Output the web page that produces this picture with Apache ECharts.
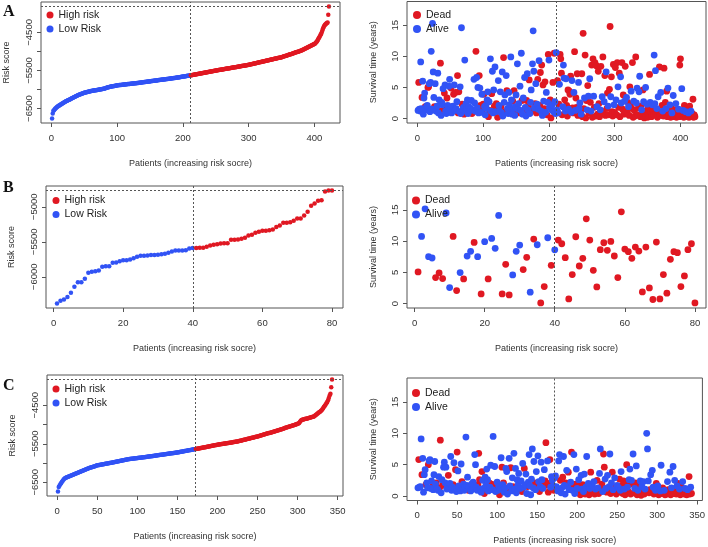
<!DOCTYPE html>
<html>
<head>
<meta charset="utf-8">
<title>Risk score and survival</title>
<script src="https://cdn.jsdelivr.net/npm/echarts@6/dist/echarts.min.js"></script>
<style>
  html, body { margin: 0; padding: 0; background: #fff; }
  #chart { width: 708px; height: 547px; }
</style>
</head>
<body>
<div id="chart"></div>
<script>
// ---- data ----
// sorted risk scores, panel A (n = 422)
const riskA = [
  -6761,-6630,-6560,-6545,-6520,-6500,-6482,-6465,-6452,-6440,
  -6428,-6417,-6406,-6395,-6384,-6373,-6362,-6351,-6339,-6327,
  -6318,-6309,-6300,-6292,-6284,-6276,-6268,-6259,-6250,-6240,
  -6231,-6222,-6213,-6204,-6196,-6188,-6179,-6170,-6162,-6153,
  -6146,-6139,-6132,-6125,-6118,-6111,-6104,-6097,-6090,-6083,
  -6079,-6075,-6071,-6067,-6063,-6059,-6055,-6050,-6045,-6040,
  -6037,-6034,-6031,-6028,-6025,-6022,-6019,-6016,-6013,-6010,
  -6007,-6004,-6001,-5998,-5995,-5992,-5988,-5985,-5982,-5978,
  -5972,-5966,-5960,-5954,-5948,-5942,-5937,-5932,-5928,-5924,
  -5920,-5917,-5914,-5911,-5908,-5905,-5902,-5899,-5895,-5890,
  -5888,-5886,-5884,-5882,-5880,-5878,-5876,-5874,-5872,-5870,
  -5868,-5866,-5864,-5862,-5860,-5858,-5856,-5854,-5852,-5850,
  -5848,-5846,-5844,-5842,-5840,-5838,-5836,-5834,-5832,-5830,
  -5828,-5826,-5823,-5821,-5819,-5816,-5814,-5812,-5809,-5807,
  -5805,-5802,-5800,-5798,-5795,-5793,-5791,-5788,-5786,-5784,
  -5781,-5779,-5777,-5774,-5772,-5770,-5767,-5765,-5763,-5760,
  -5758,-5756,-5753,-5751,-5749,-5746,-5744,-5742,-5739,-5737,
  -5735,-5732,-5730,-5728,-5725,-5723,-5721,-5718,-5716,-5714,
  -5711,-5709,-5707,-5704,-5702,-5700,-5697,-5695,-5693,-5690,
  -5687,-5684,-5681,-5678,-5676,-5673,-5670,-5667,-5664,-5661,
  -5658,-5655,-5653,-5650,-5647,-5644,-5641,-5638,-5636,-5633,
  -5630,-5627,-5624,-5620,-5617,-5614,-5610,-5607,-5604,-5601,
  -5597,-5594,-5591,-5587,-5584,-5581,-5578,-5574,-5571,-5568,
  -5564,-5561,-5558,-5555,-5551,-5548,-5545,-5541,-5538,-5535,
  -5532,-5528,-5525,-5522,-5518,-5515,-5512,-5509,-5505,-5502,
  -5499,-5496,-5493,-5490,-5487,-5484,-5481,-5478,-5475,-5472,
  -5469,-5466,-5463,-5460,-5457,-5454,-5451,-5448,-5445,-5442,
  -5439,-5436,-5433,-5430,-5427,-5424,-5421,-5418,-5415,-5412,
  -5409,-5406,-5403,-5400,-5397,-5394,-5391,-5388,-5385,-5382,
  -5379,-5376,-5373,-5370,-5367,-5364,-5361,-5358,-5355,-5351,
  -5347,-5343,-5339,-5335,-5331,-5327,-5323,-5319,-5315,-5311,
  -5307,-5303,-5299,-5295,-5291,-5287,-5283,-5279,-5275,-5271,
  -5267,-5263,-5259,-5255,-5251,-5247,-5243,-5239,-5235,-5231,
  -5227,-5223,-5219,-5215,-5211,-5207,-5203,-5199,-5195,-5191,
  -5187,-5183,-5179,-5175,-5171,-5167,-5163,-5159,-5156,-5153,
  -5147,-5141,-5135,-5129,-5123,-5117,-5112,-5106,-5100,-5094,
  -5088,-5082,-5077,-5071,-5065,-5059,-5053,-5047,-5042,-5036,
  -5030,-5024,-5018,-5012,-5007,-5001,-4995,-4989,-4984,-4978,
  -4970,-4961,-4952,-4943,-4934,-4925,-4917,-4908,-4899,-4890,
  -4881,-4872,-4863,-4855,-4846,-4837,-4828,-4820,-4811,-4803,
  -4790,-4775,-4755,-4730,-4700,-4670,-4640,-4610,-4575,-4542,
  -4500,-4450,-4400,-4360,-4325,-4300,-4285,-4270,-4255,-4239,
  -4037,-3820
];
// survival time (years) and status (1 = dead), panel A
const timeA = [
  1.3,5.8,1.5,1.2,9.1,1.6,3.4,6.0,0.7,3.3,4.1,1.9,1.4,2.0,2.1,5.0,5.1,5.6,1.1,5.8,
  10.8,1.5,15.3,7.5,3.4,1.9,5.6,1.2,1.5,2.0,7.3,0.9,3.0,1.2,8.9,0.5,2.6,2.2,4.8,1.7,
  4.1,5.4,1.2,0.8,3.3,2.1,1.0,5.2,6.3,1.5,4.9,0.9,1.9,2.0,3.9,5.4,1.3,4.2,1.6,2.7,
  6.9,0.9,4.3,1.1,5.1,0.8,14.6,2.3,1.4,1.8,0.7,9.4,1.2,2.4,1.5,3.0,0.8,1.9,1.0,1.3,
  1.6,2.9,0.8,1.4,1.1,6.3,2.5,1.2,10.8,6.6,1.7,5.0,0.9,6.9,4.9,2.1,1.0,3.9,1.4,2.3,
  3.9,1.9,0.6,2.1,1.6,3.0,4.3,0.3,2.7,1.3,9.6,1.2,4.0,7.6,0.9,4.6,2.0,8.3,1.1,2.4,
  1.5,0.2,6.1,2.1,1.2,4.3,1.9,0.9,7.5,0.4,9.8,2.6,3.8,1.1,6.9,4.5,1.6,0.8,4.2,2.2,
  1.3,9.9,3.0,0.7,2.8,1.6,4.5,0.5,1.9,3.8,1.2,8.8,1.5,2.4,0.9,5.2,1.3,10.5,2.9,0.7,
  3.3,1.1,6.6,1.8,0.4,2.9,7.2,1.4,1.9,6.2,0.8,2.6,4.6,1.2,8.8,14.1,7.6,1.7,2.4,5.6,
  0.9,2.3,6.3,1.5,9.3,2.1,7.4,1.2,8.6,0.5,5.4,2.8,1.6,5.9,1.0,4.2,0.6,2.6,10.3,9.4,
  1.8,3.0,0.1,1.4,2.2,5.8,1.1,10.5,2.7,0.8,10.6,
  1.4,6.1,0.9,2.3,5.5,10.3,9.6,7.3,0.6,1.9,8.6,6.5,3.0,1.2,6.4,2.1,0.4,4.6,1.5,
  4.4,3.9,6.8,1.0,6.1,1.7,0.9,4.2,10.75,1.3,3.3,1.8,7.2,0.5,5.8,1.6,2.5,1.1,0.7,7.2,
  0.3,13.7,1.6,3.3,10.2,0.1,2.9,1.4,5.3,3.6,0.9,6.4,2.6,1.2,8.6,0.2,9.6,3.6,1.8,9.0,
  0.4,8.5,1.9,0.7,7.6,2.4,0.3,1.4,8.4,1.2,3.5,9.9,0.8,2.7,6.9,0.5,7.5,1.6,4.1,2.0,
  0.6,4.7,14.8,3.5,6.7,1.1,0.4,8.7,2.2,1.0,8.2,3.0,0.6,9.0,5.1,1.8,7.3,0.3,6.7,2.5,
  9.0,1.5,3.8,0.7,2.8,8.4,1.2,3.4,0.9,2.6,1.9,0.5,5.1,2.2,4.4,1.6,9.0,0.2,2.8,1.3,
  0.4,9.9,2.5,4.9,0.6,1.7,4.3,6.8,0.3,2.0,1.4,0.8,4.6,2.7,0.1,1.2,5.0,0.5,2.3,0.2,
  1.8,0.4,7.1,2.6,1.0,0.3,2.2,1.5,0.6,10.2,2.4,7.7,0.9,1.6,0.2,3.5,1.1,8.3,0.5,4.2,
  0.8,2.1,1.2,0.4,8.1,0.9,2.6,1.6,4.4,0.3,4.9,1.1,0.6,2.2,0.2,1.7,0.9,0.5,3.7,0.3,
  1.4,0.6,2.4,0.2,1.0,0.5,1.5,0.3,8.6,9.6,0.8,4.8,0.4,1.3,0.2,2.1,0.6,1.1,0.3,1.6,
  0.5,0.9,0.2,2.0,0.4,1.2,0.3,0.8,3.1,0.2,0.6,0.3
];
const statusA = [
  0,1,0,0,0,0,1,0,0,0,0,1,0,0,0,1,1,0,0,0,
  0,0,0,0,0,1,0,0,1,0,0,0,0,1,1,0,0,0,0,1,
  1,0,0,0,1,0,0,0,0,0,1,0,1,0,1,0,0,1,0,0,
  1,1,1,0,0,0,0,1,0,0,1,0,0,0,0,0,0,0,1,0,
  0,0,1,0,1,0,0,0,1,0,0,0,0,1,0,1,0,0,1,1,
  1,0,0,0,0,0,0,1,0,1,0,0,1,0,0,0,1,0,0,1,
  1,1,0,0,0,0,1,0,0,0,1,0,0,1,0,1,0,0,0,0,
  0,0,0,0,1,0,1,0,0,0,1,0,0,0,1,0,0,0,1,0,
  0,1,0,0,0,1,0,0,1,1,0,0,0,1,0,0,0,0,1,0,
  1,0,1,0,0,1,1,0,1,0,1,0,1,1,0,0,1,0,1,0,
  0,1,1,0,0,1,0,1,0,0,0,
  0,1,0,1,0,1,1,1,1,0,0,0,1,0,0,1,1,1,0,
  1,1,1,0,0,1,1,0,1,0,1,1,1,1,0,0,0,1,0,1,
  1,1,1,0,1,1,1,0,1,0,1,0,1,0,1,1,1,0,1,1,
  1,1,0,1,1,1,1,0,1,1,0,1,1,0,1,1,0,1,1,0,
  1,1,1,0,1,1,1,1,0,1,1,0,1,1,0,1,1,1,0,0,
  1,1,1,1,0,1,1,0,1,1,0,1,1,1,0,1,1,1,0,1,
  1,1,0,0,1,1,0,0,1,1,0,1,1,0,1,1,0,1,0,1,
  1,1,1,0,1,1,0,1,1,0,0,0,1,0,1,0,1,1,1,0,
  1,1,0,1,1,1,1,0,1,1,0,1,1,0,1,1,0,1,0,1,
  1,1,0,1,1,1,0,1,1,1,1,0,1,0,1,1,1,0,1,1,
  1,0,1,1,1,0,1,1,1,1,1,1
];

// panel B (n = 80)
const riskB = [
  -6381,-6343,-6324,-6290,-6229,-6143,-6076,-6076,-6029,-5943,
  -5929,-5919,-5910,-5857,-5848,-5848,-5800,-5795,-5776,-5762,
  -5762,-5752,-5733,-5714,-5700,-5700,-5695,-5690,-5690,-5686,
  -5676,-5671,-5657,-5638,-5624,-5624,-5624,-5619,-5595,-5590,
  -5590,-5586,-5586,-5571,-5552,-5543,-5533,-5524,-5519,-5519,
  -5471,-5471,-5467,-5457,-5443,-5410,-5400,-5371,-5357,-5343,
  -5343,-5333,-5324,-5290,-5267,-5229,-5229,-5219,-5200,-5167,
  -5167,-5124,-5071,-4986,-4952,-4914,-4905,-4781,-4767,-4767
];
const timeB = [
  5.05,10.74,15.16,7.5,7.29,4.15,4.9,3.99,14.5,2.55,
  10.74,2.07,4.95,3.94,7.6,8.35,9.79,7.5,1.54,9.9,
  3.94,10.43,8.83,14.1,1.54,6.28,1.38,4.57,8.35,9.36,
  5.43,7.39,1.81,10.32,9.41,0.1,2.71,10.53,6.12,8.6,
  10.16,9.57,7.34,0.74,4.63,10.69,6.01,7.23,13.56,10.16,
  5.32,2.66,8.62,9.73,8.51,9.95,7.61,4.15,14.68,8.72,
  8.3,7.23,9.04,8.4,1.86,9.04,2.5,0.64,9.84,0.74,
  4.63,1.65,7.07,8.3,8.14,2.71,4.41,8.62,9.57,0.1
];
const statusB = [
  1,0,0,0,0,1,1,1,0,0,
  1,1,0,1,0,0,1,0,1,0,
  1,0,0,0,1,1,1,0,0,0,
  1,1,0,1,0,1,1,0,1,0,
  1,1,1,1,1,1,1,1,1,1,
  1,1,1,1,1,1,1,1,1,1,
  1,1,1,1,1,1,1,1,1,1,
  1,1,1,1,1,1,1,1,1,1
];

// panel C (n = 343)
const riskC = [
  -6740,-6620,-6586,-6550,-6517,-6488,-6460,-6431,-6410,-6388,
  -6380,-6371,-6362,-6354,-6345,-6337,-6328,-6319,-6311,-6302,
  -6293,-6285,-6276,-6267,-6259,-6250,-6241,-6232,-6224,-6215,
  -6206,-6198,-6189,-6181,-6172,-6164,-6155,-6147,-6138,-6130,
  -6123,-6116,-6109,-6102,-6095,-6088,-6081,-6074,-6067,-6060,
  -6056,-6052,-6048,-6044,-6041,-6037,-6033,-6029,-6025,-6021,
  -6018,-6014,-6010,-6006,-6002,-5998,-5994,-5991,-5987,-5983,
  -5979,-5974,-5970,-5966,-5961,-5957,-5953,-5948,-5944,-5940,
  -5936,-5931,-5927,-5923,-5918,-5914,-5910,-5905,-5901,-5897,
  -5894,-5892,-5889,-5887,-5884,-5881,-5879,-5876,-5874,-5871,
  -5868,-5866,-5863,-5861,-5858,-5855,-5853,-5850,-5848,-5845,
  -5842,-5839,-5836,-5833,-5830,-5827,-5824,-5821,-5818,-5815,
  -5812,-5809,-5806,-5803,-5800,-5797,-5794,-5791,-5788,-5785,
  -5782,-5779,-5776,-5773,-5770,-5767,-5764,-5761,-5758,-5755,
  -5752,-5749,-5746,-5743,-5740,-5737,-5734,-5731,-5728,-5725,
  -5721,-5717,-5713,-5709,-5705,-5701,-5698,-5694,-5690,-5686,
  -5682,-5678,-5674,-5670,-5667,-5663,-5659,-5655,-5651,-5647,
  -5644,-5640,-5636,-5632,-5628,-5624,-5620,-5616,-5611,-5607,
  -5603,-5599,-5595,-5591,-5587,-5583,-5578,-5574,-5570,-5566,
  -5562,-5558,-5554,-5550,-5545,-5541,-5537,-5533,-5529,-5525,
  -5522,-5518,-5515,-5511,-5508,-5505,-5501,-5498,-5494,-5491,
  -5488,-5484,-5481,-5477,-5474,-5471,-5467,-5464,-5460,-5457,
  -5454,-5450,-5447,-5443,-5440,-5435,-5430,-5424,-5419,-5414,
  -5409,-5404,-5398,-5393,-5388,-5383,-5378,-5372,-5367,-5362,
  -5357,-5352,-5346,-5341,-5336,-5331,-5326,-5320,-5315,-5310,
  -5304,-5298,-5291,-5285,-5279,-5273,-5267,-5260,-5254,-5248,
  -5242,-5236,-5229,-5223,-5217,-5211,-5205,-5198,-5192,-5186,
  -5180,-5174,-5167,-5161,-5155,-5148,-5141,-5134,-5127,-5120,
  -5114,-5107,-5100,-5093,-5086,-5079,-5072,-5065,-5058,-5051,
  -5045,-5038,-5031,-5024,-5017,-5010,-5003,-4996,-4990,-4983,
  -4975,-4960,-4930,-4900,-4880,-4875,-4870,-4864,-4858,-4853,
  -4847,-4841,-4835,-4830,-4824,-4818,-4812,-4807,-4801,-4795,
  -4780,-4765,-4748,-4730,-4712,-4695,-4680,-4665,-4648,-4630,
  -4600,-4570,-4540,-4510,-4480,-4450,-4415,-4370,-4310,-4245,
  -4200,-4030,-3830
];
const timeC = [
  1.3,5.8,1.4,1.5,9.1,3.4,6.0,0.6,3.4,4.2,1.8,2.1,1.3,5.0,5.6,5.8,1.2,2.4,1.5,1.0,
  3.4,5.5,1.9,2.1,1.1,0.9,3.1,1.3,8.9,0.5,2.6,1.7,4.6,5.4,2.1,4.6,1.1,1.6,3.3,1.2,
  2.0,6.3,0.9,1.4,1.8,5.3,1.1,4.2,0.7,7.0,4.0,1.6,1.3,0.8,5.1,2.3,1.2,1.9,0.9,1.5,
  9.4,1.7,3.0,0.9,1.4,1.2,0.8,1.9,1.1,2.2,1.6,6.6,5.0,1.4,0.9,1.8,6.8,2.6,1.1,0.6,
  3.9,2.5,1.2,0.4,3.0,1.7,4.3,2.6,0.8,2.1,1.4,4.9,1.9,1.0,9.5,1.6,4.7,0.7,1.3,2.2,
  0.9,1.5,0.2,1.1,6.1,4.6,1.8,2.1,0.6,1.3,4.4,3.9,0.3,1.2,6.0,1.6,4.5,0.8,2.9,1.5,
  6.8,1.1,4.4,0.5,2.6,1.7,3.6,0.9,1.2,2.4,0.7,5.2,1.4,4.4,1.8,3.5,0.4,1.5,2.2,6.6,
  1.6,0.2,2.7,7.5,1.3,5.5,2.1,1.0,3.9,1.8,6.4,2.3,0.7,1.5,5.4,2.6,1.2,1.9,4.2,2.4,
  8.5,1.7,5.6,0.6,2.0,5.8,1.4,3.1,2.5,1.6,0.9,2.9,
  3.2,1.5,1.1,0.8,5.6,6.6,2.5,0.5,1.3,3.0,6.3,1.7,0.3,2.1,4.1,1.5,3.8,1.0,
  1.4,2.2,7.0,0.9,1.6,6.6,0.4,1.9,4.3,1.2,0.6,2.6,1.7,0.2,3.3,1.1,1.8,0.7,3.5,0.3,
  1.4,6.3,0.8,2.0,0.2,1.2,3.8,0.5,1.6,0.9,2.3,0.3,1.1,0.6,2.5,1.3,0.4,3.6,7.5,1.0,
  1.9,0.7,6.7,4.6,2.7,1.2,0.6,3.3,0.9,1.5,6.7,0.4,2.1,3.8,1.0,0.8,2.9,1.4,0.3,1.7,
  0.6,1.3,2.7,0.9,3.9,1.7,0.4,2.4,1.1,0.2,2.0,5.0,1.4,0.7,2.6,4.3,0.3,2.5,1.9,6.7,
  0.5,1.2,2.1,4.8,0.2,0.9,1.8,0.4,2.4,0.1,1.5,0.6,2.3,0.3,1.1,0.8,10.0,7.5,2.4,0.5,
  1.0,3.4,0.7,4.1,1.4,0.3,1.2,0.9,2.0,0.5,1.6,0.2,1.1,0.8,4.9,0.4,1.3,0.6,0.9,0.2,
  0.7,0.3,2.3,1.0,0.5,3.8,0.2,1.3,0.6,4.7,0.4,2.5,0.9,0.3,1.6,2.0,0.5,1.1,0.2,1.5,
  0.4,2.3,0.8,0.3,1.2,0.6,0.2,1.0,0.5,3.1,0.3,1.4,0.4
];
const statusC = [
  0,1,0,0,0,1,0,0,0,0,1,0,0,1,0,0,0,0,1,0,
  0,0,0,1,0,0,0,1,1,0,0,1,0,0,0,0,0,0,1,0,
  0,0,0,0,1,0,0,1,0,1,0,0,1,0,0,1,0,0,0,0,
  0,0,0,1,0,1,0,0,0,0,0,0,0,0,0,1,1,1,0,0,
  1,0,0,1,0,0,0,0,0,1,0,0,1,0,0,1,0,0,1,0,
  0,0,1,0,0,1,0,1,0,0,0,0,0,1,0,0,1,0,0,1,
  0,0,0,0,0,0,0,1,0,0,1,0,0,1,0,0,0,1,0,0,
  0,0,0,0,0,0,1,0,0,1,0,0,1,0,0,0,0,1,0,1,
  1,1,0,1,1,1,0,0,0,0,1,0,
  0,0,1,0,0,0,1,0,0,1,0,0,0,1,0,0,1,0,
  1,0,1,0,1,0,0,1,0,0,1,0,1,1,0,0,1,0,0,1,
  0,0,1,0,1,0,1,1,0,1,0,1,0,1,1,0,1,0,0,1,
  1,0,1,1,0,0,1,0,1,0,0,1,0,1,0,1,0,1,1,0,
  1,0,1,0,0,1,1,1,0,1,1,1,0,1,0,0,1,0,1,0,
  1,0,1,0,1,0,1,1,0,1,0,1,0,1,0,1,0,0,0,1,
  1,0,1,0,0,1,1,0,1,1,0,1,1,0,0,1,1,1,0,1,
  1,1,0,1,1,0,1,0,1,0,1,0,1,1,0,1,1,0,1,1,
  1,0,1,1,0,1,1,0,1,1,1,0,1
];

// number of low-risk patients (median split)
const lowA = 211, lowB = 40, lowC = 172;

// axis ticks
const riskTicksAC = [-6500, -6000, -5500, -5000, -4500];
const riskLabelsAC = [-6500, -5500, -4500];
const riskTicksB = [-6000, -5500, -5000];
const survTicks = [0, 5, 10, 15];
const patTicksA = [0, 100, 200, 300, 400];
const patTicksB = [0, 20, 40, 60, 80];
const patTicksC = [0, 50, 100, 150, 200, 250, 300, 350];

// ---- chart ----
const RED = '#E01822';
const BLUE = '#3153F5';
const FONT = '"Liberation Sans", Arial, sans-serif';
const TXT = '#333';
const LINE = '#555';

// R style axis range: data range padded by 4% on each side
function pad(lo, hi) {
  const d = (hi - lo) * 0.04;
  return [lo - d, hi + d];
}

const minus = v => String(v).replace('-', '\u2212');

function xAxisFor(gi, n, ticks) {
  const r = pad(1, n);
  return {
    type: 'value', gridIndex: gi, min: r[0], max: r[1],
    name: 'Patients (increasing risk socre)', nameLocation: 'middle', nameGap: 36,
    nameTextStyle: { fontSize: 9, color: TXT, fontFamily: FONT },
    axisLine: { show: false, onZero: false },
    axisTick: { show: true, length: 4, customValues: ticks, lineStyle: { color: LINE } },
    axisLabel: { customValues: ticks, margin: 10, fontSize: 9.5, color: TXT, fontFamily: FONT },
    splitLine: { show: false }
  };
}

function yAxisFor(gi, range, ticks, labels, name, gap) {
  return {
    type: 'value', gridIndex: gi, min: range[0], max: range[1],
    name: name, nameLocation: 'middle', nameGap: gap,
    nameTextStyle: { fontSize: 9, color: TXT, fontFamily: FONT },
    axisLine: { show: false, onZero: false },
    axisTick: { show: true, length: 4, customValues: ticks, lineStyle: { color: LINE } },
    axisLabel: { customValues: labels, rotate: 90, margin: 7, fontSize: 9.5, color: TXT,
                 fontFamily: FONT, formatter: minus },
    splitLine: { show: false }
  };
}

const dotted = { color: LINE, width: 1, type: [2, 2] };

function riskSeries(gi, risk, low) {
  const lowPts = [], highPts = [];
  risk.forEach((v, i) => (i < low ? lowPts : highPts).push([i + 1, v]));
  const top = risk[risk.length - 1];
  return [
    { name: 'Low Risk', type: 'scatter', xAxisIndex: gi, yAxisIndex: gi, data: lowPts,
      symbolSize: 4.5, itemStyle: { color: BLUE, opacity: 1 }, silent: true,
      markLine: { symbol: 'none', silent: true, label: { show: false }, lineStyle: dotted,
                  data: [{ xAxis: low }, { yAxis: top }] } },
    { name: 'High risk', type: 'scatter', xAxisIndex: gi, yAxisIndex: gi, data: highPts,
      symbolSize: 4.5, itemStyle: { color: RED, opacity: 1 }, silent: true }
  ];
}

function survSeries(gi, time, status, low) {
  const dead = [], alive = [];
  time.forEach((t, i) => (status[i] === 1 ? dead : alive).push([i + 1, t]));
  return [
    { name: 'Dead', type: 'scatter', xAxisIndex: gi, yAxisIndex: gi, data: dead,
      symbolSize: 6.8, itemStyle: { color: RED, opacity: 1 }, silent: true },
    { name: 'Alive', type: 'scatter', xAxisIndex: gi, yAxisIndex: gi, data: alive,
      symbolSize: 6.8, itemStyle: { color: BLUE, opacity: 1 }, silent: true,
      markLine: { symbol: 'none', silent: true, label: { show: false }, lineStyle: dotted,
                  data: [{ xAxis: low }] } }
  ];
}

function legendAt(names, left, top, size) {
  return {
    data: names, left: left, top: top, orient: 'vertical', icon: 'circle',
    itemWidth: size, itemHeight: size, itemGap: 0, padding: 0,
    textStyle: { fontSize: 10.5, color: '#222', fontFamily: FONT, lineHeight: 14 },
    selectedMode: false
  };
}

const boxStyle = { show: true, borderColor: LINE, borderWidth: 1, backgroundColor: 'transparent' };
const survRange = [-0.72, 18.82];
const rA = pad(Math.min(...riskA), Math.max(...riskA));
const rB = pad(Math.min(...riskB), Math.max(...riskB));
const rC = pad(Math.min(...riskC), Math.max(...riskC));

const option = {
  animation: false,
  backgroundColor: '#fff',
  textStyle: { fontFamily: FONT },
  grid: [
    Object.assign({ left: 41, top: 2, width: 299, height: 121 }, boxStyle),
    Object.assign({ left: 407, top: 1.5, width: 299, height: 121.5 }, boxStyle),
    Object.assign({ left: 46, top: 186, width: 297, height: 122 }, boxStyle),
    Object.assign({ left: 407, top: 186, width: 299, height: 122 }, boxStyle),
    Object.assign({ left: 47, top: 375, width: 296, height: 121 }, boxStyle),
    Object.assign({ left: 407, top: 378, width: 299, height: 122.5 }, boxStyle)
  ],
  xAxis: [
    xAxisFor(0, riskA.length, patTicksA),
    xAxisFor(1, timeA.length, patTicksA),
    xAxisFor(2, riskB.length, patTicksB),
    xAxisFor(3, timeB.length, patTicksB),
    xAxisFor(4, riskC.length, patTicksC),
    xAxisFor(5, timeC.length, patTicksC)
  ],
  yAxis: [
    yAxisFor(0, rA, riskTicksAC, riskLabelsAC, 'Risk score', 30),
    yAxisFor(1, survRange, survTicks, survTicks, 'Survival time (years)', 29),
    yAxisFor(2, rB, riskTicksB, riskTicksB, 'Risk score', 30),
    yAxisFor(3, survRange, survTicks, survTicks, 'Survival time (years)', 29),
    yAxisFor(4, rC, riskTicksAC, riskLabelsAC, 'Risk score', 30),
    yAxisFor(5, survRange, survTicks, survTicks, 'Survival time (years)', 29)
  ],
  legend: [
    legendAt(['High risk', 'Low Risk'], 46.5, 8, 7),
    legendAt(['Dead', 'Alive'], 413, 8, 8),
    legendAt(['High risk', 'Low Risk'], 52.5, 193.5, 7),
    legendAt(['Dead', 'Alive'], 412, 193.5, 8),
    legendAt(['High risk', 'Low Risk'], 52.5, 382, 7),
    legendAt(['Dead', 'Alive'], 412, 386, 8)
  ],
  graphic: [
    { type: 'text', left: 3, top: 4, style: { text: 'A', font: 'bold 16px "Liberation Serif", serif', fill: '#111' } },
    { type: 'text', left: 3, top: 180, style: { text: 'B', font: 'bold 16px "Liberation Serif", serif', fill: '#111' } },
    { type: 'text', left: 3, top: 378, style: { text: 'C', font: 'bold 16px "Liberation Serif", serif', fill: '#111' } }
  ],
  series: [].concat(
    riskSeries(0, riskA, lowA),
    survSeries(1, timeA, statusA, lowA),
    riskSeries(2, riskB, lowB),
    survSeries(3, timeB, statusB, lowB),
    riskSeries(4, riskC, lowC),
    survSeries(5, timeC, statusC, lowC)
  )
};

const chart = echarts.init(document.getElementById('chart'), null, { renderer: 'canvas' });
chart.setOption(option);
</script>
</body>
</html>
